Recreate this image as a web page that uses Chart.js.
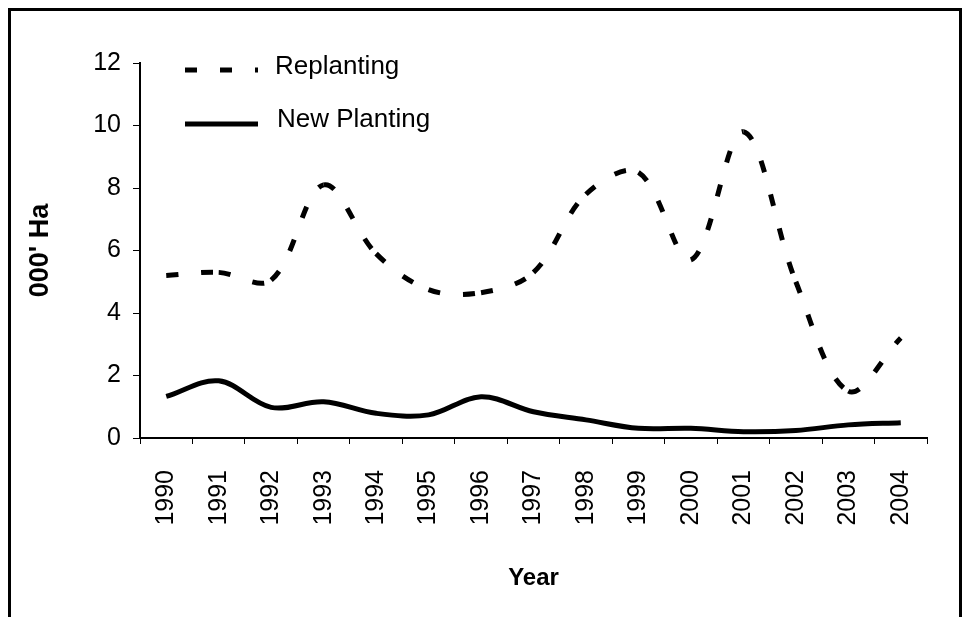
<!DOCTYPE html>
<html>
<head>
<meta charset="utf-8">
<script src="https://cdn.jsdelivr.net/npm/chart.js@4.4.0/dist/chart.umd.min.js"></script>
<style>
  html, body { margin: 0; padding: 0; background: #fff; overflow: hidden; }
  #frame { position: absolute; left: 8px; top: 8px; width: 948px; height: 700px; border: 3px solid #000; }
  #wrap { position: absolute; left: 0; top: 0; width: 969px; height: 617px; }
</style>
</head>
<body>
<div id="frame"></div>
<div id="wrap"><canvas id="chart" width="969" height="617"></canvas></div>
<script>
// Replanting vs new planting area, thousand hectares, 1990-2004
const years = ["1990", "1991", "1992", "1993", "1994", "1995", "1996", "1997",
  "1998", "1999", "2000", "2001", "2002", "2003", "2004"];
const replanting = [5.2, 5.3, 5.05, 8.1, 5.9, 4.75, 4.65, 5.3, 7.8, 8.5, 5.7, 9.8, 5.0, 1.5, 3.2];
const newPlanting = [1.33, 1.83, 0.98, 1.16, 0.79, 0.74, 1.32, 0.84, 0.58, 0.31, 0.31, 0.2, 0.24, 0.42, 0.49];
const yMax = 12;
const yStep = 2;

const FONT = "'Liberation Sans', Arial, sans-serif";

// legend drawn inside the plot, top-left, like the original
const insideLegend = {
  id: "insideLegend",
  afterDraw(chart) {
    const ctx = chart.ctx;
    const rows = [{ lineY: 70, textY: 67 }, { lineY: 124, textY: 120 }];
    ctx.save();
    chart.data.datasets.forEach((ds, i) => {
      const r = rows[i];
      ctx.strokeStyle = ds.borderColor;
      ctx.lineWidth = ds.borderWidth;
      ctx.lineCap = "butt";
      ctx.setLineDash(ds.borderDash || []);
      ctx.beginPath();
      ctx.moveTo(185, r.lineY);
      ctx.lineTo(258, r.lineY);
      ctx.stroke();
      ctx.setLineDash([]);
      ctx.fillStyle = "#000";
      ctx.font = "26px " + FONT;
      ctx.textBaseline = "middle";
      ctx.fillText(ds.label, i === 0 ? 275 : 277, r.textY);
    });
    ctx.restore();
  }
};

new Chart(document.getElementById("chart"), {
  type: "line",
  data: {
    labels: years,
    datasets: [
      {
        label: "Replanting", data: replanting, borderColor: "#000", borderWidth: 5,
        borderDash: [12, 23], borderCapStyle: "butt", pointRadius: 0, tension: 0.35, fill: false,
        // restart the dash pattern at every data point
        segment: { borderDashOffset: (c) => c.p0DataIndex * 0.001 }
      },
      {
        label: "New Planting", data: newPlanting, borderColor: "#000", borderWidth: 5,
        pointRadius: 0, tension: 0.35, fill: false
      }
    ]
  },
  options: {
    responsive: false,
    animation: false,
    devicePixelRatio: 1,
    layout: { padding: { left: 0, right: 42, top: 63, bottom: 0 } },
    plugins: { legend: { display: false }, tooltip: { enabled: false } },
    scales: {
      x: {
        type: "category",
        offset: true,
        // fixed axis box so the plot spans 140..927 like the original
        afterFit: (s) => { s.height = 179; s.paddingLeft = 0; s.paddingRight = 0; },
        grid: { offset: true, drawOnChartArea: false, drawTicks: true, tickLength: 6, color: "#000", lineWidth: 1 },
        border: { color: "#000", width: 2 },
        ticks: { color: "#000", font: { family: FONT, size: 25 }, minRotation: 90, maxRotation: 90, autoSkip: false, padding: 26 },
        title: { display: true, text: "Year", color: "#000", font: { family: FONT, size: 24, weight: "bold" }, padding: { top: 0, bottom: 24 } }
      },
      y: {
        min: 0, max: yMax,
        afterFit: (s) => { s.width = 140; },
        grid: { drawOnChartArea: false, drawTicks: true, tickLength: 7, color: "#000", lineWidth: 1 },
        border: { color: "#000", width: 2 },
        ticks: { stepSize: yStep, color: "#000", font: { family: FONT, size: 25 }, padding: 12 },
        title: { display: true, text: "000' Ha", color: "#000", font: { family: FONT, size: 27, weight: "bold" }, padding: { top: 24, bottom: 0 } }
      }
    }
  },
  plugins: [insideLegend]
});
</script>
</body>
</html>
